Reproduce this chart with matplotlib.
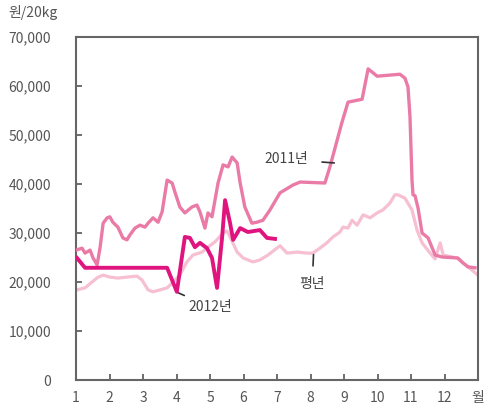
import matplotlib
matplotlib.use("Agg")
import matplotlib.pyplot as plt

plt.rcParams['font.family'] = ['Noto Sans CJK KR', 'DejaVu Sans']

# month position (1 = Jan 1st, 13 = year end) and price in won per 20kg
m_2011 = [1.00, 1.18, 1.27, 1.42, 1.51, 1.63, 1.72, 1.81, 1.93, 2.01, 2.10, 2.25, 2.40, 2.52,
          2.61, 2.76, 2.91, 3.06, 3.15, 3.30, 3.45, 3.57, 3.72, 3.87, 3.96, 4.10, 4.25, 4.46,
          4.61, 4.70, 4.85, 4.94, 5.06, 5.24, 5.39, 5.54, 5.66, 5.81, 5.90, 6.04, 6.25, 6.40,
          6.58, 6.79, 7.09, 7.48, 7.69, 8.43, 8.58, 8.94, 9.12, 9.54, 9.72, 9.99, 10.67, 10.82,
          10.91, 10.97, 11.03, 11.06, 11.12, 11.21, 11.33, 11.51, 11.72, 11.93, 12.40, 12.55,
          12.70, 12.91]
p_2011 = [26500, 26900, 25900, 26500, 24900, 23500, 27100, 32000, 33100, 33300, 32200, 31200,
          29000, 28600, 29600, 31000, 31600, 31200, 32000, 33100, 32200, 34300, 40800, 40200,
          38200, 35300, 34100, 35300, 35700, 34300, 31000, 34100, 33300, 40200, 43900, 43500,
          45500, 44300, 40200, 35300, 32000, 32200, 32600, 34700, 38200, 39800, 40400, 40200,
          43500, 52600, 56700, 57300, 63500, 62000, 62400, 61600, 59800, 53700, 40800, 37800,
          37600, 35100, 30000, 29000, 25500, 25100, 24900, 23900, 23100, 22900]

m_2012 = [1.03, 1.27, 3.60, 3.72, 4.01, 4.25, 4.40, 4.55, 4.70, 4.91, 5.06, 5.21, 5.36, 5.45,
          5.60, 5.69, 5.90, 6.13, 6.49, 6.70, 6.94]
p_2012 = [24900, 22900, 22900, 22900, 18000, 29200, 29000, 27100, 28000, 26900, 24900, 18800,
          29000, 36700, 32000, 28600, 31000, 30200, 30600, 29000, 28800]

m_avg = [1.03, 1.27, 1.48, 1.66, 1.81, 2.01, 2.25, 2.52, 2.82, 2.97, 3.15, 3.30, 3.51, 3.72,
         3.90, 4.10, 4.31, 4.49, 4.76, 4.94, 5.15, 5.39, 5.51, 5.60, 5.81, 5.99, 6.28, 6.49,
         6.73, 7.09, 7.30, 7.60, 7.90, 8.07, 8.28, 8.49, 8.67, 8.88, 8.97, 9.12, 9.24, 9.39,
         9.57, 9.78, 9.99, 10.16, 10.37, 10.52, 10.61, 10.82, 11.03, 11.18, 11.33, 11.57,
         11.72, 11.87, 11.96, 12.37, 12.70, 13.00]
p_avg = [18400, 18800, 20000, 21000, 21400, 21000, 20800, 21000, 21200, 20400, 18400, 18000,
         18400, 18800, 20000, 21400, 24100, 25500, 26100, 27100, 28200, 30000, 30400, 29200,
         26100, 24900, 24100, 24500, 25500, 27400, 25900, 26100, 25900, 25900, 26900, 28000,
         29200, 30200, 31200, 31000, 32600, 31600, 33700, 33100, 34100, 34700, 36100, 37800,
         37800, 37100, 34700, 30600, 28000, 25900, 24700, 28000, 25500, 24900, 23100, 21400]

x_ticks = list(range(1, 14))
x_labels = [str(i) for i in range(1, 13)] + ['월']
y_ticks = list(range(0, 70001, 10000))
y_labels = ['0'] + [f'{v:,}' for v in y_ticks[1:]]

fig = plt.figure(figsize=(4.84, 4.07), dpi=100)
ax = fig.add_axes([76 / 484, 27 / 407, 402 / 484, 343 / 407])

ax.plot(m_avg, p_avg, color='#f6bfd2', lw=2.3, solid_joinstyle='round', zorder=2)
ax.plot(m_2011, p_2011, color='#ea7ba6', lw=2.4, solid_joinstyle='round', zorder=3)
ax.plot(m_2012, p_2012, color='#e0147f', lw=2.8, solid_joinstyle='round', zorder=4)

ax.set_xlim(1, 13)
ax.set_ylim(0, 70000)
ax.set_xticks(x_ticks)
ax.set_xticklabels(x_labels)
ax.set_yticks(y_ticks)
ax.set_yticklabels(y_labels)
ax.tick_params(axis='both', direction='in', length=4, width=1.2, color='#555555',
               labelcolor='#555555', labelsize=10)
ax.tick_params(axis='y', pad=18)
ax.tick_params(axis='x', pad=8)
for s in ax.spines.values():
    s.set_color('#666666')
    s.set_linewidth(1.5)

fig.text(8 / 484, 1 - 12 / 407, '원/20kg', fontsize=10, color='#555555', va='center', ha='left')

# series labels with leader lines
ax.annotate('2011년', xy=(8.71, 44300), xytext=(7.93, 45000), fontsize=10, color='#444444',
            ha='right', va='center',
            arrowprops=dict(arrowstyle='-', color='#333333', lw=1.2, shrinkA=8, shrinkB=0))
ax.annotate('2012년', xy=(4.05, 17800), xytext=(4.35, 14900), fontsize=10, color='#444444',
            ha='left', va='center',
            arrowprops=dict(arrowstyle='-', color='#333333', lw=1.2, shrinkA=3, shrinkB=0))
ax.annotate('평년', xy=(8.09, 25600), xytext=(8.05, 19600), fontsize=10, color='#444444',
            ha='center', va='center',
            arrowprops=dict(arrowstyle='-', color='#333333', lw=1.2, shrinkA=6, shrinkB=0))

fig.savefig('out.png', dpi=100)
